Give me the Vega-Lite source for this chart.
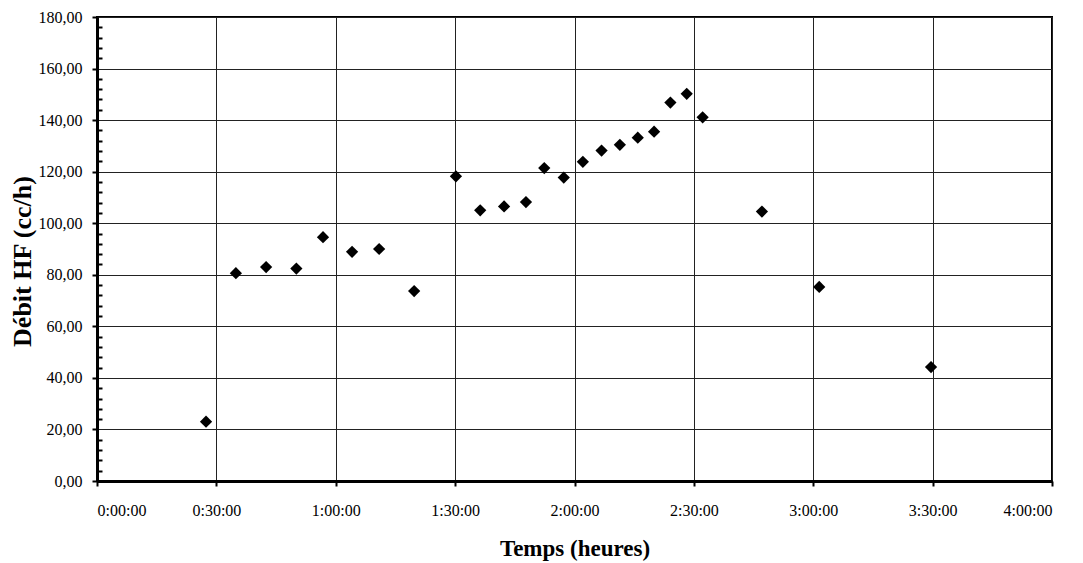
{
  "$schema": "https://vega.github.io/schema/vega-lite/v6.json",
  "autosize": "none",
  "width": 955,
  "height": 464,
  "padding": {"left": 97, "top": 17, "right": 31, "bottom": 82},
  "background": "white",
  "config": {
    "view": {"stroke": "#000", "strokeWidth": 2},
    "font": "Liberation Serif"
  },
  "data": {
    "values": [
      {"t": 27.4, "debit": 23.0},
      {"t": 34.9, "debit": 80.6},
      {"t": 42.5, "debit": 83.0},
      {"t": 50.1, "debit": 82.4},
      {"t": 56.8, "debit": 94.6},
      {"t": 64.1, "debit": 88.9},
      {"t": 70.9, "debit": 90.0},
      {"t": 79.7, "debit": 73.7},
      {"t": 90.2, "debit": 118.2},
      {"t": 96.3, "debit": 105.0},
      {"t": 102.3, "debit": 106.5},
      {"t": 107.8, "debit": 108.2},
      {"t": 112.4, "debit": 121.4},
      {"t": 117.3, "debit": 117.7},
      {"t": 122.1, "debit": 123.8},
      {"t": 126.8, "debit": 128.2},
      {"t": 131.4, "debit": 130.4},
      {"t": 135.9, "debit": 133.2},
      {"t": 140.0, "debit": 135.5},
      {"t": 144.1, "debit": 146.8},
      {"t": 148.2, "debit": 150.2},
      {"t": 152.2, "debit": 141.1},
      {"t": 167.1, "debit": 104.5},
      {"t": 181.5, "debit": 75.3},
      {"t": 209.6, "debit": 44.2}
    ]
  },
  "layer": [
    {
      "mark": {"type": "point", "shape": "diamond", "filled": true, "color": "#000", "size": 150, "opacity": 1},
      "encoding": {
        "x": {
          "field": "t", "type": "quantitative",
          "scale": {"domain": [0, 240], "nice": false, "zero": false},
          "axis": {
            "values": [0, 30, 60, 90, 120, 150, 180, 210, 240],
            "labelExpr": "floor(datum.value/60) + ':' + (datum.value%60 < 10 ? '0' : '') + (datum.value%60) + ':00'",
            "title": "Temps (heures)",
            "titleFont": "Liberation Serif", "titleFontSize": 23, "titleFontWeight": "bold", "titleColor": "#000", "titlePadding": 19,
            "labelFont": "Liberation Serif", "labelFontSize": 16, "labelColor": "#000", "labelPadding": 16,
            "domainColor": "#000", "domainWidth": 3,
            "tickColor": "#000", "tickWidth": 2, "tickSize": 5,
            "grid": true, "gridColor": "#222", "gridWidth": 1
          }
        },
        "y": {
          "field": "debit", "type": "quantitative",
          "scale": {"domain": [0, 180], "nice": false},
          "axis": {
            "values": [0, 20, 40, 60, 80, 100, 120, 140, 160, 180],
            "labelExpr": "replace(format(datum.value, '.2f'), '.', ',')",
            "title": "Débit HF (cc/h)",
            "titleFont": "Liberation Serif", "titleFontSize": 26, "titleFontWeight": "bold", "titleColor": "#000", "titlePadding": 3, "titleY": 244,
            "labelFont": "Liberation Serif", "labelFontSize": 16, "labelColor": "#000", "labelPadding": 10,
            "domainColor": "#000", "domainWidth": 3,
            "tickColor": "#000", "tickWidth": 2, "tickSize": 5,
            "grid": true, "gridColor": "#222", "gridWidth": 1
          }
        }
      }
    },
    {
      "mark": {"type": "point", "opacity": 0},
      "encoding": {
        "x": {"field": "t", "type": "quantitative"},
        "y": {
          "field": "debit", "type": "quantitative",
          "axis": {
            "orient": "left",
            "offset": 0,
            "values": [4, 8, 12, 16, 24, 28, 32, 36, 44, 48, 52, 56, 64, 68, 72, 76, 84, 88, 92, 96, 104, 108, 112, 116, 124, 128, 132, 136, 144, 148, 152, 156, 164, 168, 172, 176],
            "labels": false, "title": null, "domain": false, "grid": false,
            "tickColor": "#000", "tickWidth": 2, "tickSize": -5
          }
        }
      }
    }
  ],
  "resolve": {"axis": {"y": "independent", "x": "shared"}}
}
